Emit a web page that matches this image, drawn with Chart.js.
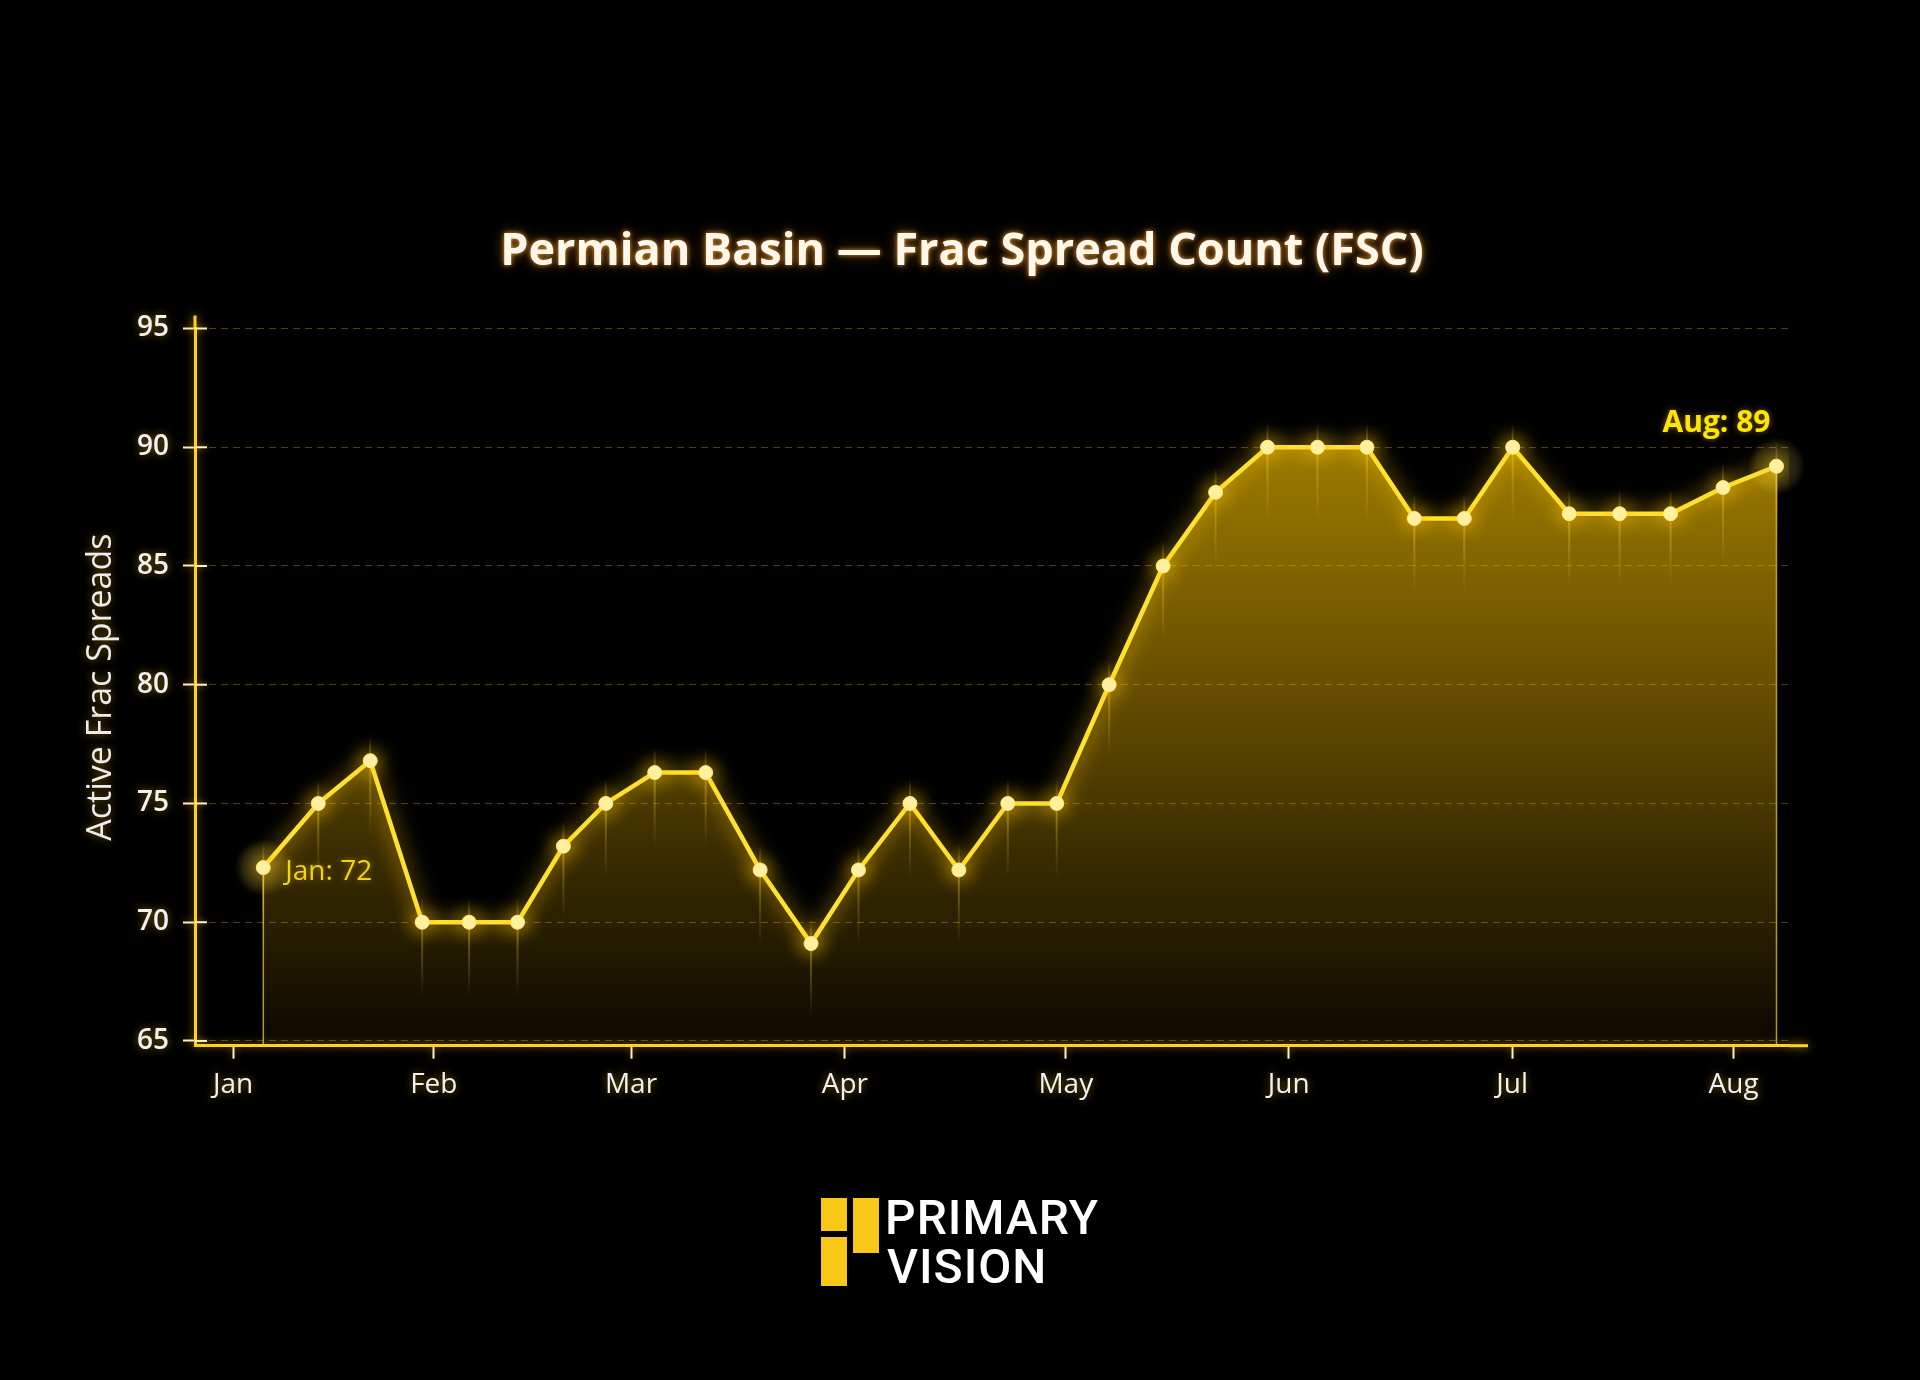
<!DOCTYPE html>
<html><head><meta charset="utf-8">
<script src="https://cdn.jsdelivr.net/npm/chart.js@4.4.1/dist/chart.umd.min.js"></script>
<style>
html,body{margin:0;padding:0;background:#000;width:1920px;height:1380px;overflow:hidden}
#wrap{position:absolute;left:0;top:0;width:1920px;height:1380px}
#title{position:absolute;left:0;width:1920px;top:225px;text-align:center;font:700 45px/45px "Open Sans",sans-serif;color:#FFF7EA;
  text-shadow:0 0 5px rgba(255,170,60,0.85),0 0 14px rgba(255,150,30,0.45);padding-left:2px}
.logo-block{position:absolute;background:#F8C818}
.logo-text{position:absolute;font:500 48px/48px Roboto,sans-serif;color:#fff;white-space:nowrap;letter-spacing:1px}
</style></head><body>
<div id="wrap"><canvas id="c"></canvas></div>
<div id="title">Permian Basin — Frac Spread Count (FSC)</div>
<div class="logo-block" style="left:821px;top:1198px;width:26px;height:33px"></div>
<div class="logo-block" style="left:821px;top:1237px;width:26px;height:49px"></div>
<div class="logo-block" style="left:853px;top:1198px;width:26px;height:55px"></div>
<div class="logo-text" style="left:885px;top:1194px">PRIMARY</div>
<div class="logo-text" style="left:887px;top:1243px">VISION</div>
<script>
// ---- data ----
const weekPos = [0, 1.09, 2.12, 3.15, 4.08, 5.04, 5.95, 6.79, 7.76, 8.77, 9.85, 10.86, 11.80, 12.82, 13.79, 14.76, 15.73, 16.77, 17.84, 18.88, 19.91, 20.90, 21.88, 22.82, 23.81, 24.77, 25.89, 26.89, 27.90, 28.94, 30.00];
const fscValues = [72.3, 75.0, 76.8, 70.0, 70.0, 70.0, 73.2, 75.0, 76.3, 76.3, 72.2, 69.1, 72.2, 75.0, 72.2, 75.0, 75.0, 80.0, 85.0, 88.1, 90.0, 90.0, 90.0, 87.0, 87.0, 90.0, 87.2, 87.2, 87.2, 88.3, 89.2];
const monthLabels = ['Jan', 'Feb', 'Mar', 'Apr', 'May', 'Jun', 'Jul', 'Aug'];
const monthPos = [-0.60, 3.38, 7.29, 11.53, 15.91, 20.33, 24.76, 29.15];
const yTicks = [65, 70, 75, 80, 85, 90, 95];
const yTitle = 'Active Frac Spreads';

const points = weekPos.map((x, i) => ({x: x, y: fscValues[i]}));

const glow = {
  id: 'glow',
  beforeDraw(chart) {
    const c = chart.ctx;
    c.save();
    c.shadowColor = 'rgba(255,185,20,0.55)';
    c.shadowBlur = 8;
  },
  beforeDatasetsDraw(chart) {
    const c = chart.ctx, a = chart.chartArea, ys = chart.scales.y;
    c.restore();
    c.save();
    c.shadowColor = 'rgba(255,190,0,0.9)';
    c.shadowBlur = 10;
    c.strokeStyle = '#FFD21F';
    c.lineWidth = 3;
    c.beginPath(); c.moveTo(a.right, a.bottom); c.lineTo(a.right + 19, a.bottom); c.stroke();
    c.beginPath(); c.moveTo(a.left, a.top); c.lineTo(a.left, a.top - 13); c.stroke();
    // inner half of the y tick marks (they cross the axis)
    c.shadowColor = 'rgba(255,200,80,0.6)';
    c.shadowBlur = 6;
    c.strokeStyle = '#FFF0C8';
    c.lineWidth = 2;
    yTicks.forEach(v => {
      const y = ys.getPixelForValue(v);
      c.beginPath(); c.moveTo(a.left, y); c.lineTo(a.left + 12, y); c.stroke();
    });
    c.restore();
  },
  beforeDatasetDraw(chart, args) {
    const c = chart.ctx, pts = args.meta.data, a = chart.chartArea;
    const ends = [pts[0], pts[pts.length - 1]];
    c.save();
    c.strokeStyle = 'rgba(255,214,40,0.7)';
    c.lineWidth = 1.5;
    ends.forEach(p => { c.beginPath(); c.moveTo(p.x, p.y); c.lineTo(p.x, a.bottom); c.stroke(); });
    pts.forEach(p => {
      const g = c.createLinearGradient(0, p.y - 25, 0, p.y + 75);
      g.addColorStop(0, 'rgba(255,215,80,0)');
      g.addColorStop(0.25, 'rgba(255,215,80,0.4)');
      g.addColorStop(1, 'rgba(255,215,80,0)');
      c.fillStyle = g;
      c.fillRect(p.x - 1, p.y - 25, 2, 100);
    });
    ends.forEach(p => {
      const g = c.createRadialGradient(p.x, p.y, 0, p.x, p.y, 29);
      g.addColorStop(0, 'rgba(255,220,110,0.28)');
      g.addColorStop(0.7, 'rgba(255,220,110,0.14)');
      g.addColorStop(1, 'rgba(255,220,110,0)');
      c.fillStyle = g;
      c.beginPath(); c.arc(p.x, p.y, 29, 0, Math.PI * 2); c.fill();
    });
    c.restore();
    c.save();
    c.shadowColor = 'rgba(255,195,0,1)';
    c.shadowBlur = 20;
  },
  afterDatasetDraw(chart) {
    chart.ctx.restore();
  },
  afterDatasetsDraw(chart) {
    const c = chart.ctx, pts = chart.getDatasetMeta(0).data;
    const p0 = pts[0], pn = pts[pts.length - 1];
    c.save();
    c.shadowColor = 'rgba(255,200,0,0.5)';
    c.shadowBlur = 6;
    c.textBaseline = 'alphabetic';
    c.font = '400 28px "Open Sans"';
    c.fillStyle = '#F0D50C';
    c.textAlign = 'left';
    c.fillText(monthLabels[0] + ': ' + Math.round(fscValues[0]), p0.x + 22, p0.y + 12);
    c.font = '700 30px "Open Sans"';
    c.fillStyle = '#FFE600';
    c.textAlign = 'right';
    c.fillText(monthLabels[monthLabels.length - 1] + ': ' + Math.round(fscValues[fscValues.length - 1]), pn.x - 6, pn.y - 34);
    c.restore();
  }
};

Chart.defaults.font.family = '"Open Sans"';

new Chart(document.getElementById('c'), {
  type: 'line',
  data: {
    datasets: [{
      label: 'FSC',
      data: points,
      borderColor: '#FFE22E',
      borderWidth: 4.5,
      tension: 0,
      pointRadius: 7,
      pointHoverRadius: 7,
      pointBackgroundColor: '#FFF3A8',
      pointBorderColor: '#FFE873',
      pointBorderWidth: 1,
      fill: 'start',
      backgroundColor: (ctx) => {
        const a = ctx.chart.chartArea;
        if (!a) return 'rgba(255,200,0,0.3)';
        const g = ctx.chart.ctx.createLinearGradient(0, a.top, 0, a.bottom);
        g.addColorStop(0, 'rgba(255,200,0,0.72)');
        g.addColorStop(0.5, 'rgba(255,195,0,0.40)');
        g.addColorStop(1, 'rgba(255,190,0,0.04)');
        return g;
      }
    }]
  },
  options: {
    responsive: true,
    maintainAspectRatio: false,
    animation: false,
    devicePixelRatio: 1,
    events: [],
    layout: {padding: {left: 0, top: 328.5, right: 131, bottom: 274.3}},
    plugins: {legend: {display: false}, tooltip: {enabled: false}, title: {display: false}},
    scales: {
      x: {
        type: 'linear',
        min: -1.354,
        max: 30.248,
        afterBuildTicks: s => { s.ticks = monthPos.map(v => ({value: v})); },
        afterFit: s => { s.height = 60; },
        ticks: {
          callback: (v, i) => monthLabels[i],
          color: '#F2F2F2',
          font: {size: 28, weight: 500},
          padding: 10,
          maxRotation: 0,
          autoSkip: false
        },
        grid: {drawOnChartArea: false, drawTicks: true, tickLength: 13, tickColor: '#FFF0C8', tickWidth: 2},
        border: {display: true, color: '#FFD21F', width: 3}
      },
      y: {
        min: 64.8,
        max: 95,
        afterBuildTicks: s => { s.ticks = yTicks.map(v => ({value: v})); },
        afterFit: s => { s.width = 195; },
        ticks: {color: '#F2F2F2', font: {size: 28, weight: 600}, padding: 14},
        grid: {color: 'rgba(200,160,60,0.38)', lineWidth: 1, tickColor: '#FFF0C8', tickLength: 12, tickWidth: 2, tickBorderDash: []},
        border: {display: true, color: '#FFD21F', width: 3, dash: [7, 5]},
        title: {display: true, text: yTitle, color: '#EDEDED', font: {size: 34}, padding: {top: 81, bottom: 0}}
      }
    }
  },
  plugins: [glow]
});
</script>
</body></html>
